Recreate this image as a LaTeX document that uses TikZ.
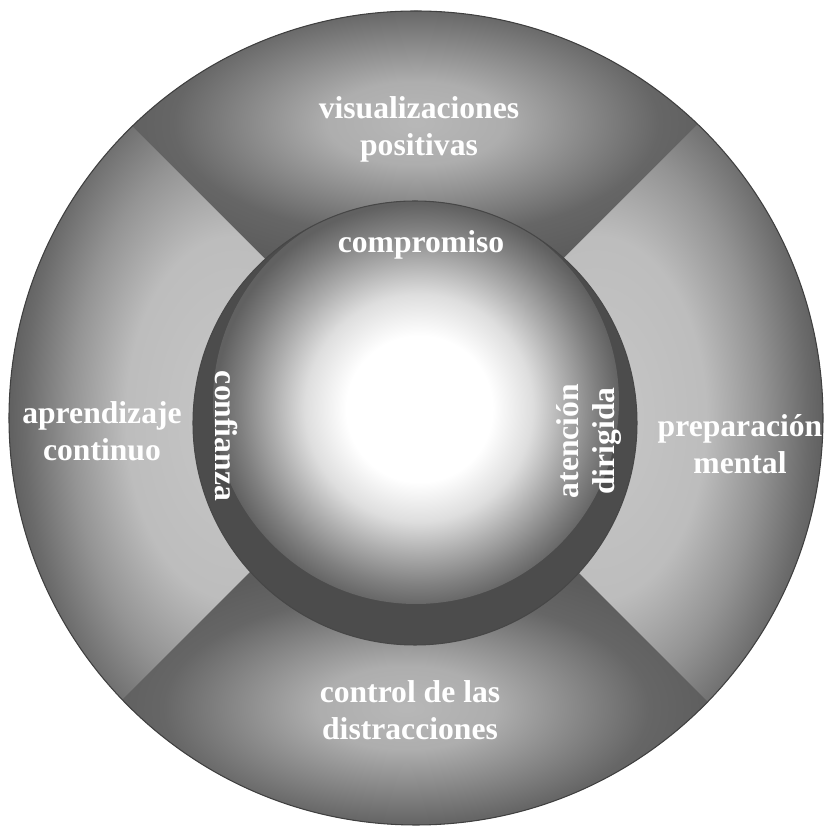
\documentclass[tikz,border=0pt]{standalone}
\usepackage{fontspec}
\setmainfont{Liberation Serif}
\usepackage{tikz}
\usepackage{color}

\pgfdeclareradialshading{band}{\pgfpointorigin}{color(0bp)=(black!28); color(7bp)=(black!32); color(13bp)=(black!46); color(19bp)=(black!60); color(25bp)=(black!64); color(50bp)=(black!64)}
\pgfdeclareradialshading{side}{\pgfpointorigin}{color(0bp)=(black!22); color(12bp)=(black!26); color(18bp)=(black!42); color(23bp)=(black!58); color(25bp)=(black!63); color(50bp)=(black!63)}
\pgfdeclareradialshading{globe}{\pgfpoint{0.5bp}{-1.2bp}}{color(0bp)=(white); color(9bp)=(white); color(14bp)=(black!13); color(18bp)=(black!32); color(22bp)=(black!50); color(25bp)=(black!62); color(50bp)=(black!62)}
\tikzstyle{lbl} = [text=white,font=\bfseries\fontsize{18}{21}\selectfont,align=center,inner sep=0pt]

\begin{document}
\begin{tikzpicture}[x=2cm,y=2cm]
\useasboundingbox (-4.16,-4.08) rectangle (4.12,4.18);
\coordinate (o) at (0,0);
\coordinate (m) at (-0.02,0.10);
\coordinate (s) at (-0.01,-0.05);

\begin{scope}
\clip (o) circle (4.07);
\fill[black!64] (o) circle (4.07);
\foreach \a/\sh/\cx/\cy/\rx/\ry in {90/band/0/2.95/3.2/1.5,270/band/-0.1/-2.9/3.2/1.5,180/side/-1.8/0/2.3/3.8,0/side/1.8/0/2.3/3.8}
{
\begin{scope}
\clip (m) -- +(\a-45:6) -- +(\a+45:6) -- cycle;
\shade[shading=\sh] (\cx,\cy) ellipse ({\rx} and {\ry});
\end{scope}
}
\end{scope}
\draw[black!75,line width=0.6pt] (o) circle (4.07);

\begin{scope}
\clip (s) circle (2.22);
\fill[black!70] (s) circle (2.22);
\shade[shading=globe] (0,0.17) circle (2.03);
\end{scope}
\draw[black!72,line width=0.6pt] (s) circle (2.22);

\node[lbl] (vis) at (0.03,2.89) {visualizaciones\\positivas};
\node[lbl] (comp) at (0.05,1.73) {compromiso};
\node[lbl,rotate=-90] (conf) at (-1.90,-0.18) {confianza};
\node[lbl,rotate=90] (aten) at (1.73,-0.23) {atención\\dirigida};
\node[lbl] (apre) at (-3.14,-0.13) {aprendizaje\\continuo};
\node[lbl] (prep) at (3.24,-0.26) {preparación\\mental};
\node[lbl] (ctrl) at (-0.06,-2.92) {control de las\\distracciones};
\end{tikzpicture}
\end{document}
